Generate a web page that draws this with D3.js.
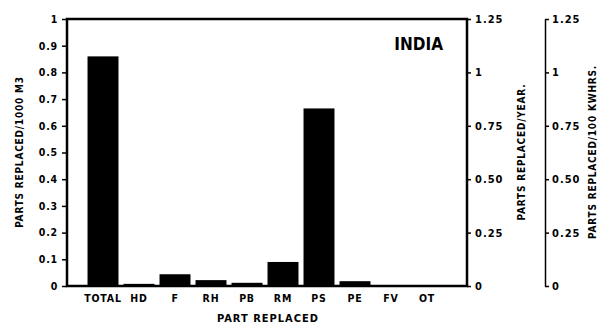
<!DOCTYPE html>
<html>
<head>
<meta charset="utf-8">
<script src="https://cdn.jsdelivr.net/npm/d3@7"></script>
<style>
  body { margin: 0; background: #fff; }
  svg text { font-family: "DejaVu Sans Condensed", "DejaVu Sans", sans-serif; font-weight: bold; fill: #000; }
  .axis path, .axis line { stroke: #000; }
</style>
</head>
<body>
<div id="chart"></div>
<script>
// data
var parts = ["TOTAL", "HD", "F", "RH", "PB", "RM", "PS", "PE", "FV", "OT"];
var perThousand = [0.86, 0.008, 0.044, 0.022, 0.012, 0.09, 0.665, 0.018, 0.002, 0.002];
var leftTicks = [0, 0.1, 0.2, 0.3, 0.4, 0.5, 0.6, 0.7, 0.8, 0.9, 1];
var rightTicks = [0, 0.25, 0.5, 0.75, 1, 1.25];
var rightLabels = ["0", "0.25", "0.50", "0.75", "1", "1.25"];

var width = 603, height = 328;
var box = {left: 67, right: 467, top: 19, bottom: 286};

var svg = d3.select("#chart").append("svg")
    .attr("width", width)
    .attr("height", height);

var x = d3.scaleBand().domain(parts).range([85, 445]).paddingInner(0.14).paddingOuter(0.07);
var y = d3.scaleLinear().domain([0, 1]).range([box.bottom, box.top]);
var y2 = d3.scaleLinear().domain([0, 1.25]).range([box.bottom, box.top]);

// bars
svg.selectAll(".bar")
    .data(parts)
  .enter().append("rect")
    .attr("class", "bar")
    .attr("x", function(d) { return x(d); })
    .attr("width", x.bandwidth())
    .attr("y", function(d, i) { return y(perThousand[i]); })
    .attr("height", function(d, i) { return box.bottom - y(perThousand[i]); })
    .style("fill", "#000");

// frame
svg.append("rect")
    .attr("x", box.left).attr("y", box.top)
    .attr("width", box.right - box.left).attr("height", box.bottom - box.top)
    .style("fill", "none").style("stroke", "#000").style("stroke-width", 2.5);

// left axis
svg.append("g")
    .attr("class", "axis")
    .attr("transform", "translate(" + box.left + ",0)")
    .call(d3.axisLeft(y).tickValues(leftTicks).tickSize(5).tickPadding(4)
      .tickFormat(function(d) { return d === 0 ? "0" : d === 1 ? "1" : d3.format(".1f")(d); }))
    .call(function(g) {
      g.select(".domain").remove();
      g.selectAll("line").style("stroke-width", 1.5);
      g.selectAll("text").style("font-size", "10.5px").style("letter-spacing", "0.8px");
    });

// right axis (per year)
svg.append("g")
    .attr("class", "axis")
    .attr("transform", "translate(" + box.right + ",0)")
    .call(d3.axisRight(y2).tickValues(rightTicks).tickSize(4).tickPadding(4)
      .tickFormat(function(d, i) { return rightLabels[i]; }))
    .call(function(g) {
      g.select(".domain").remove();
      g.selectAll("line").style("stroke-width", 1.5);
      g.selectAll("text").style("font-size", "11px").style("letter-spacing", "1px");
    });

// third axis (per 100 kwhrs)
svg.append("g")
    .attr("class", "axis")
    .attr("transform", "translate(545,0)")
    .call(d3.axisRight(y2).tickValues(rightTicks).tickSize(4).tickSizeOuter(0).tickPadding(3)
      .tickFormat(function(d, i) { return rightLabels[i]; }))
    .call(function(g) {
      g.select(".domain").style("stroke-width", 1.5);
      g.selectAll("line").style("stroke-width", 1.5);
      g.selectAll("text").style("font-size", "11px").style("letter-spacing", "1px");
    });

// bottom labels
svg.append("g")
    .attr("class", "axis")
    .attr("transform", "translate(0," + box.bottom + ")")
    .call(d3.axisBottom(x).tickSize(0).tickPadding(9))
    .call(function(g) {
      g.select(".domain").remove();
      g.selectAll("text").style("font-size", "10.5px").style("letter-spacing", "0.8px");
    });

// titles
svg.append("text")
    .attr("x", 268).attr("y", 322)
    .style("text-anchor", "middle").style("font-size", "11px").style("letter-spacing", "1px")
    .text("PART REPLACED");

svg.append("text")
    .attr("transform", "translate(23,152) rotate(-90)")
    .style("text-anchor", "middle").style("font-size", "10px").style("letter-spacing", "0.8px")
    .text("PARTS REPLACED/1000 M3");

svg.append("text")
    .attr("transform", "translate(525,152) rotate(-90)")
    .style("text-anchor", "middle").style("font-size", "10px").style("letter-spacing", "0.8px")
    .text("PARTS REPLACED/YEAR.");

svg.append("text")
    .attr("transform", "translate(596,152) rotate(-90)")
    .style("text-anchor", "middle").style("font-size", "10px").style("letter-spacing", "0.8px")
    .text("PARTS REPLACED/100 KWHRS.");

svg.append("text")
    .attr("x", 443).attr("y", 50)
    .style("text-anchor", "end").style("font-size", "17px")
    .text("INDIA");
</script>
</body>
</html>
